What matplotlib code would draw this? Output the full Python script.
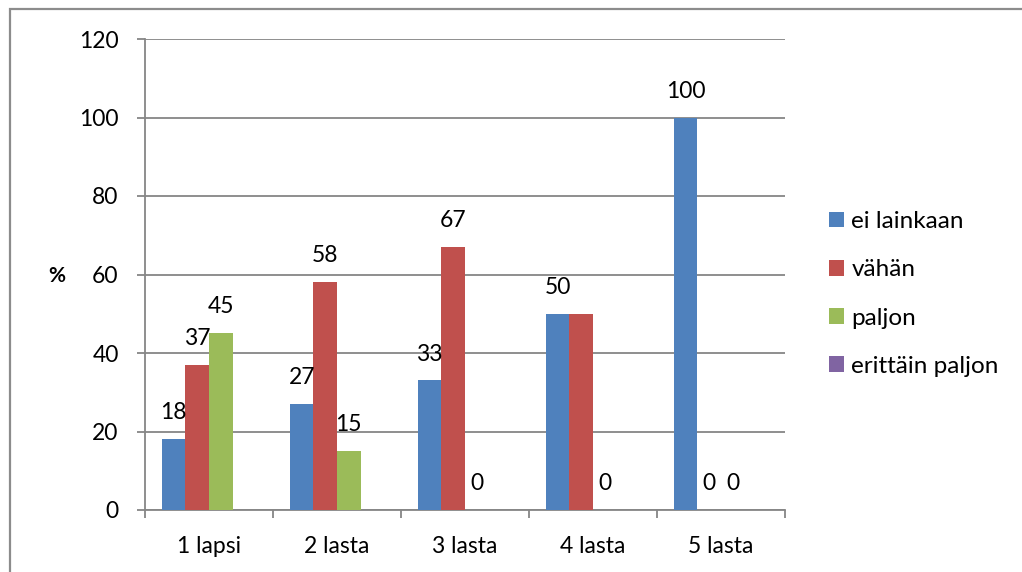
import matplotlib.pyplot as plt
from matplotlib.patches import Rectangle
import numpy as np

# Chart data
categories = ["1 lapsi", "2 lasta", "3 lasta", "4 lasta", "5 lasta"]
series_names = ["ei lainkaan", "vähän", "paljon", "erittäin paljon"]
ei_lainkaan = [18, 27, 33, 50, 100]
vahan = [37, 58, 67, 50, 0]
paljon = [45, 15, 0, 0, 0]
erittain_paljon = [0, 0, 0, 0, 0]
# Data labels as shown in the chart ("" = no label)
ei_lainkaan_labels = ["18", "27", "33", "50", "100"]
vahan_labels = ["37", "58", "67", "", "0"]
paljon_labels = ["45", "15", "0", "0", "0"]
erittain_paljon_labels = ["", "", "", "", ""]

colors = ["#4F81BD", "#C0504D", "#9BBB59", "#8064A2"]
values = [ei_lainkaan, vahan, paljon, erittain_paljon]
labels = [ei_lainkaan_labels, vahan_labels, paljon_labels, erittain_paljon_labels]

plt.rcParams['font.family'] = ['Lato', 'DejaVu Sans']
W, H = 1022, 572
fig = plt.figure(figsize=(W / 100, H / 100), dpi=100)
ax = fig.add_axes([145 / W, (H - 510) / H, (785 - 145) / W, (510 - 39) / H])

x = np.arange(len(categories))
width = 0.184
grid_color = "#868686"
fs = 16.5

for i, (vals, labs) in enumerate(zip(values, labels)):
    pos = x + (i - 1.5) * width
    ax.bar(pos, vals, width, color=colors[i], label=series_names[i], zorder=3)
    for px, v, lab in zip(pos, vals, labs):
        if lab:
            ax.annotate(lab, (px, v), xytext=(0, 19), textcoords="offset points",
                        ha="center", va="center", fontsize=fs, zorder=4)

ax.set_xlim(-0.5, len(categories) - 0.5)
ax.set_ylim(0, 120)
ax.set_yticks(np.arange(0, 121, 20))
ax.yaxis.grid(True, color=grid_color, linewidth=1.3, zorder=0)
ax.set_xticks(x)
ax.set_xticklabels(categories)
ax.set_xticks(np.arange(-0.5, len(categories)), minor=True)
ax.tick_params(axis="x", which="major", length=0, labelsize=fs, pad=19)
ax.tick_params(axis="x", which="minor", length=6, color=grid_color, width=1.3)
ax.tick_params(axis="y", length=6, color=grid_color, width=1.3, labelsize=fs, pad=13)

for s in ["top", "right"]:
    ax.spines[s].set_visible(False)
for s in ["left", "bottom"]:
    ax.spines[s].set_color(grid_color)
    ax.spines[s].set_linewidth(1.3)

fig.text(57 / W, 1 - 276 / H, "%", fontsize=15, fontweight="bold", ha="center", va="center")

leg = ax.legend(loc="center left", bbox_to_anchor=(807 / W, 1 - 294 / H),
                bbox_transform=fig.transFigure, frameon=False, fontsize=17.5,
                handlelength=0.62, handleheight=0.62, handletextpad=0.3,
                labelspacing=1.12, borderpad=0.4)

# Outer chart border (continues beyond right and bottom edges)
fig.add_artist(Rectangle((10 / W, -0.1), 1.2, 1.1 - 9 / H, transform=fig.transFigure,
                         fill=False, edgecolor="#8c8c8c", linewidth=1.6))

fig.savefig("out.png", dpi=100)
